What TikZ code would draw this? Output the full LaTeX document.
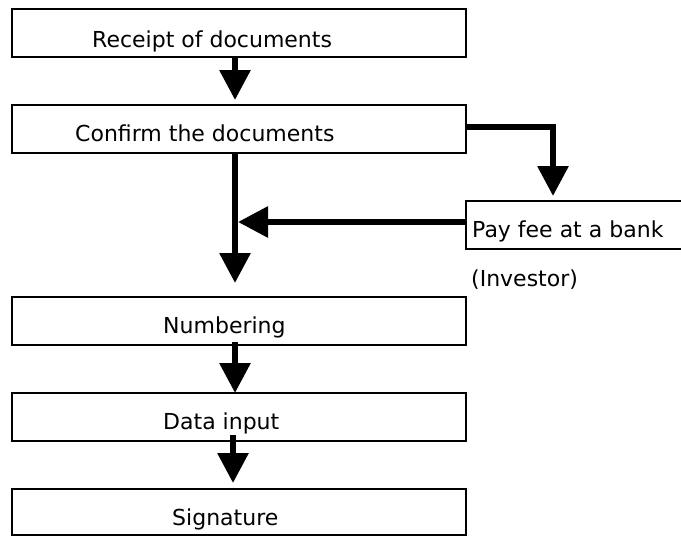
\documentclass[tikz,border=0pt]{standalone}
\usepackage{fontspec}
\setmainfont{DejaVu Sans}
\usetikzlibrary{arrows.meta}
\begin{document}
\begin{tikzpicture}[x=1pt,y=-1pt,
  box/.style={draw,line width=2pt,minimum width=454pt,minimum height=48pt,inner sep=0pt,outer sep=0pt},
  lbl/.style={anchor=base west,inner sep=0pt,font=\fontsize{22}{26}\selectfont},
  flow/.style={line width=6pt,-{Triangle[width=30pt,length=30pt]}},
]
\useasboundingbox (0,0) rectangle (681,536);
\clip (0,0) rectangle (681,536);
% boxes
\node[box] (rec) at (239,33) {};
\node[box] (conf) at (239,129) {};
\node[box,minimum width=234pt] (pay) at (583,225) {};
\node[box] (num) at (239,321) {};
\node[box] (data) at (239,417) {};
\node[box,minimum height=46pt] (sig) at (239,512) {};
% labels
\node[lbl] (trec) at (92,47) {Receipt of documents};
\node[lbl] (tconf) at (75,141) {Confirm the documents};
\node[lbl] (tpay) at (472,237) {Pay fee at a bank};
\node[lbl] (tinv) at (471,286) {(Investor)};
\node[lbl] (tnum) at (163,333) {Numbering};
\node[lbl] (tdata) at (163,429) {Data input};
\node[lbl] (tsig) at (172,525) {Signature};
% connectors
\coordinate (join) at (238,222);
\draw[flow] ([xshift=-4pt]rec.south) -- ([xshift=-4pt,yshift=5pt]conf.north);
\draw[flow] ([yshift=2pt]conf.east) -| ([xshift=87pt,yshift=5pt]pay.north west);
\draw[flow] ([xshift=-4pt]conf.south) -- ([xshift=-4pt,yshift=14pt]num.north);
\draw[flow] ([yshift=3pt]pay.west) -- (join);
\draw[flow] ([xshift=-4pt,yshift=3pt]num.south) -- ([xshift=-4pt]data.north);
\draw[flow] ([xshift=-6pt,yshift=6pt]data.south) -- ([xshift=-6pt,yshift=6pt]sig.north);
\end{tikzpicture}
\end{document}
